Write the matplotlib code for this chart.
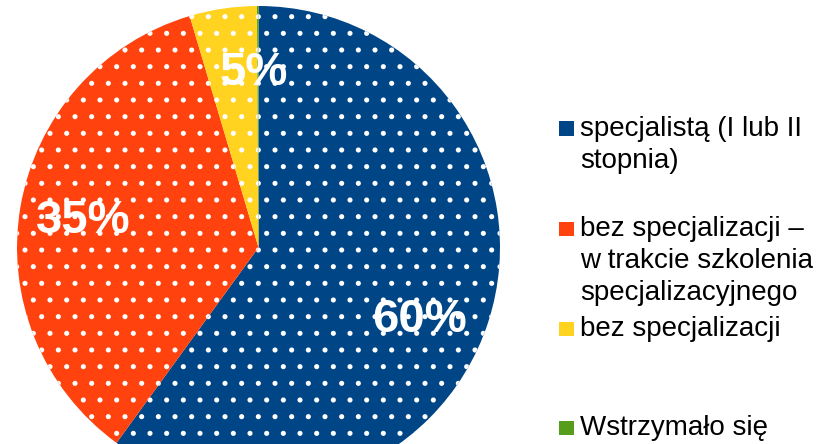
import matplotlib.pyplot as plt
from matplotlib.patches import Rectangle

labels = ["specjalistą (I lub II\nstopnia)",
          "bez specjalizacji –\nw trakcie szkolenia\nspecjalizacyjnego",
          "bez specjalizacji",
          "Wstrzymało się"]
values = [60, 35.4, 4.5, 0.1]
pct_labels = ["60%", "35%", "5%"]
colors = ["#004586", "#ff420e", "#ffd320", "#579d1c"]

plt.rcParams['font.family'] = ['Liberation Sans', 'DejaVu Sans']
plt.rcParams['hatch.linewidth'] = 1.25

fig = plt.figure(figsize=(8.35, 4.44), dpi=100)
ax = fig.add_axes([0, 0, 1, 1])

# pie is bigger than the figure, bottom gets cut off like in the original
wedges, _ = ax.pie(values, colors=colors, startangle=90, counterclock=False,
                   center=(258.5, 196.5), radius=241.5, hatch='.',
                   wedgeprops=dict(linewidth=0, edgecolor='white'))
ax.set_xlim(0, 835)
ax.set_ylim(0, 444)
ax.set_aspect('auto')
ax.axis('off')

# percentages on the slices (figure text so it sits above the hatching)
pct_pos = [(420, 112), (83, 211), (254, 359)]
for txt, (x, y) in zip(pct_labels, pct_pos):
    fig.text(x / 835, y / 444, txt, color='white', fontsize=34,
             fontweight='bold', ha='center', va='baseline')

# legend drawn by hand (entries are spaced unevenly)
baselines = [136, 236.5, 336, 435]
line_step = 32
for lab, col, b in zip(labels, colors, baselines):
    ax.add_patch(Rectangle((559, 444 - b), 14.5, 14.5, facecolor=col,
                           linewidth=0))
    for i, line in enumerate(lab.split("\n")):
        ax.text(580, 444 - b - i * line_step, line, fontsize=20,
                color='black', ha='left', va='baseline')

plt.savefig("out.png", dpi=100)
